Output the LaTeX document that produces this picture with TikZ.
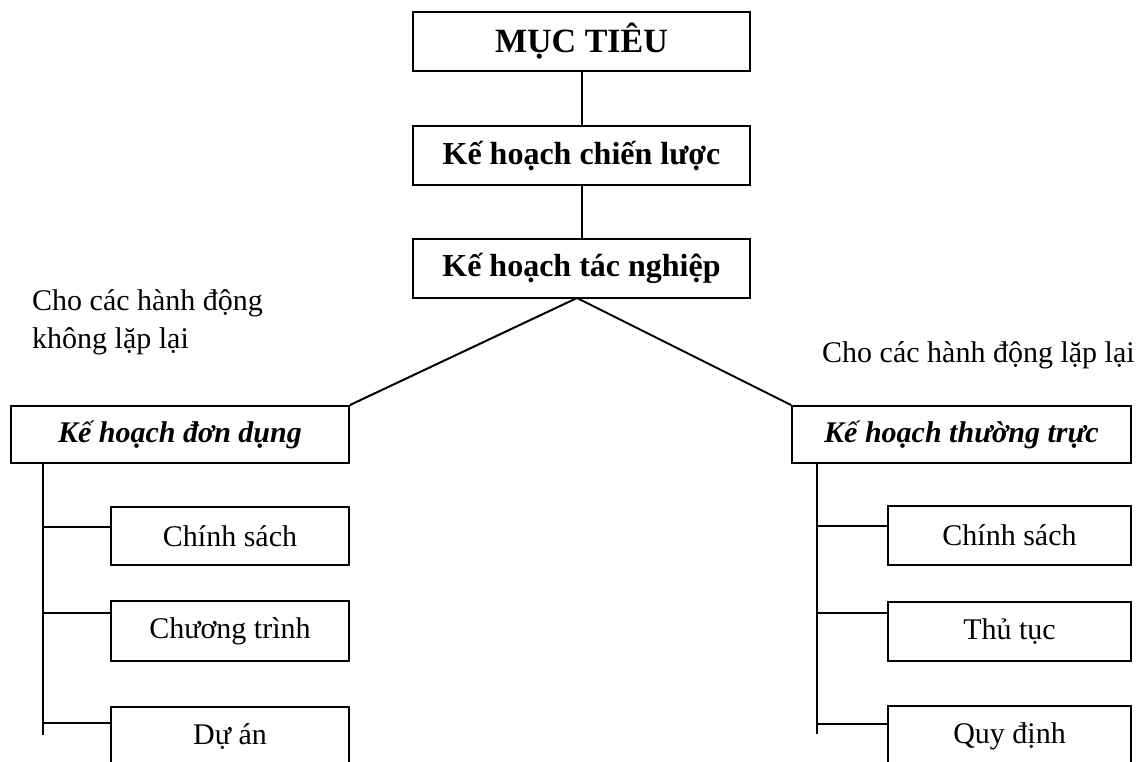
\documentclass[tikz,border=0pt]{standalone}
\usepackage{fontspec}
\setmainfont{Liberation Serif}
\begin{document}
\begin{tikzpicture}[x=1pt,y=-1pt,
  ln/.style={line width=2pt},
  box/.style={draw,line width=2pt,inner sep=0pt,minimum height=59pt},
  topbox/.style={box,minimum width=337pt,font=\fontsize{32}{36}\selectfont\bfseries},
  midbox/.style={box,minimum height=57pt,minimum width=338pt,font=\fontsize{30}{36}\selectfont\bfseries\itshape},
  leafbox/.style={box,font=\fontsize{30}{36}\selectfont},
  lbl/.style={inner sep=0pt,font=\fontsize{30}{38}\selectfont,align=left}]
\useasboundingbox (0,0) rectangle (1145,761);
\clip (0,0) rectangle (1145,761);
% top column
\node[topbox,font=\fontsize{34}{38}\selectfont\bfseries] (muc) at (581.5,41) {MỤC TIÊU};
\node[topbox] (cl) at (581.5,155.5) {Kế hoạch chiến lược};
\node[topbox] (tn) at (581.5,268.5) {Kế hoạch tác nghiệp};
\draw[ln] (muc.south) -- (cl.north);
\draw[ln] (cl.south) -- (tn.north);
% second level
\node[midbox] (dd) at (180,434.5) {Kế hoạch đơn dụng};
\node[midbox,minimum width=339pt] (tt) at (961.5,434.5) {Kế hoạch thường trực};
\coordinate (tnb) at (577,298);
\draw[ln] (tnb) -- (dd.north east);
\draw[ln] (tnb) -- (tt.north west);
% labels
\node[lbl,anchor=west] (l1) at (32,322) {Cho các hành động\\không lặp lại};
\node[lbl,anchor=west] (l2) at (822,355) {Cho các hành động lặp lại};
% left leaves
\node[leafbox,minimum width=238pt,minimum height=58pt] (a1) at (230,536) {Chính sách};
\node[leafbox,minimum width=238pt,minimum height=60pt] (a2) at (230,631) {Chương trình};
\node[leafbox,minimum width=238pt,minimum height=60pt] (a3) at (230,737) {Dự án};
\coordinate (ls0) at (43,463);
\coordinate (ls1) at (43,527);
\coordinate (ls2) at (43,613);
\coordinate (ls3) at (43,723);
\coordinate (lse) at (43,735);
\draw[ln] (ls0) -- (lse);
\draw[ln] (ls1) -- (ls1 -| a1.west);
\draw[ln] (ls2) -- (ls2 -| a2.west);
\draw[ln] (ls3) -- (ls3 -| a3.west);
% right leaves
\node[leafbox,minimum width=243pt,minimum height=59pt] (b1) at (1009.5,535.5) {Chính sách};
\node[leafbox,minimum width=243pt,minimum height=59pt] (b2) at (1009.5,631.5) {Thủ tục};
\node[leafbox,minimum width=243pt,minimum height=60pt] (b3) at (1009.5,736) {Quy định};
\coordinate (rs0) at (817,463);
\coordinate (rs1) at (817,526);
\coordinate (rs2) at (817,613);
\coordinate (rs3) at (817,724);
\coordinate (rse) at (817,734);
\draw[ln] (rs0) -- (rse);
\draw[ln] (rs1) -- (rs1 -| b1.west);
\draw[ln] (rs2) -- (rs2 -| b2.west);
\draw[ln] (rs3) -- (rs3 -| b3.west);
\end{tikzpicture}
\end{document}
